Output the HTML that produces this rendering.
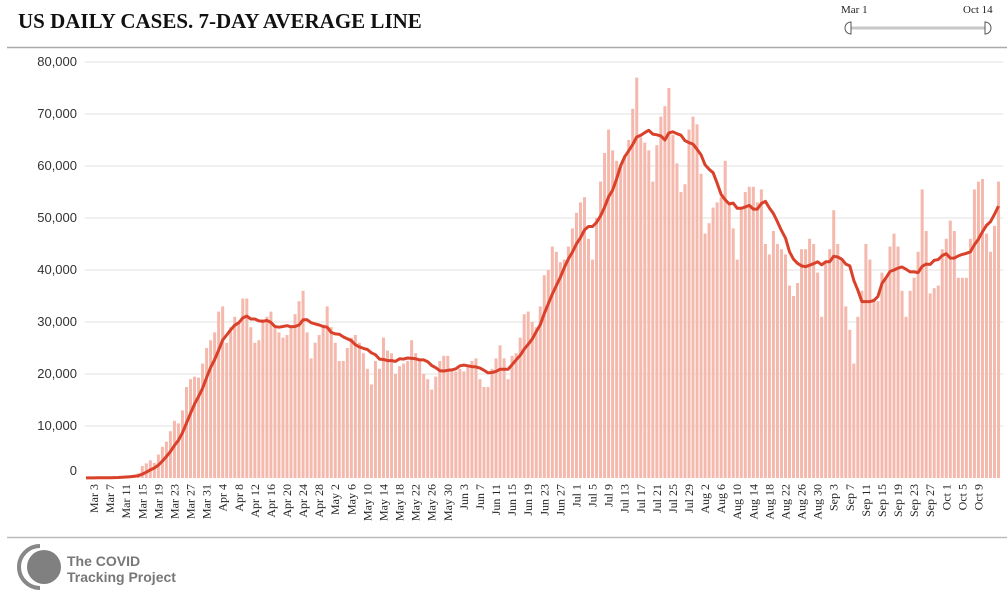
<!DOCTYPE html>
<html><head><meta charset="utf-8"><style>
body{margin:0;background:#fff;width:1007px;height:592px;overflow:hidden;position:relative;font-family:"Liberation Serif",serif}
</style></head><body>
<div style="position:absolute;left:18px;top:9px;font:bold 21px 'Liberation Serif',serif;color:#111">US DAILY CASES. 7-DAY AVERAGE LINE</div>
<svg id="c" width="1007" height="592" style="position:absolute;left:0;top:0">
<line x1="7" y1="47.5" x2="1007" y2="47.5" stroke="#aaa" stroke-width="1.5"/>
<line x1="7" y1="537.5" x2="1007" y2="537.5" stroke="#bbb" stroke-width="1.5"/>
<g>
<text x="841" y="13" font-size="11" font-family="Liberation Serif" fill="#222">Mar 1</text>
<text x="963" y="13" font-size="11" font-family="Liberation Serif" fill="#222">Oct 14</text>
<line x1="850" y1="28" x2="986" y2="28" stroke="#c8c8c8" stroke-width="3"/>
<path d="M851 22 A6 6 0 0 0 851 34 Z" fill="#fff" stroke="#555"/>
<path d="M985 22 A6 6 0 0 1 985 34 Z" fill="#fff" stroke="#555"/>
</g>
<g id="grid"></g><g id="bars"></g><g id="avg"></g><g id="xl"></g>
<g>
<path d="M40 546 A21 21 0 0 0 40 588" fill="none" stroke="#888" stroke-width="4"/>
<circle cx="44" cy="567" r="17" fill="#808080"/>
<text x="67" y="566" font-family="Liberation Sans" font-weight="bold" font-size="14" fill="#777">The COVID</text>
<text x="67" y="582" font-family="Liberation Sans" font-weight="bold" font-size="14" fill="#777">Tracking Project</text>
</g>
</svg>
<script>
const mar=[0.02,0.02,0.03,0.05,0.07,0.1,0.15,0.12,0.2,0.3,0.4,0.5,0.6,0.9,2.3,2.8,3.4,2.9,4.5,6,7,9,11,10.5,13,17.5,19,19.5,19.3,22,25];
const apr=[26.5,28,32,33,26,29,31,30,34.5,34.5,29,26,26.5,30.5,31,32,29,28,27,27.5,29,31.5,34,36,28,23,26,27.5,29.5,33];
const may=[29,26,22.5,22.5,25,27,27.5,26,24,21,18,22.5,21,27,24.5,24,20,21.5,22,22.5,26.5,24,22.5,20,19,17,19.5,22.5,23.5,23.5,20.5];
const jun=[20.5,21,20.5,21.5,22.5,23,19,17.5,17.5,21,23,25.5,23,19,23.5,24,27,31.5,32,30,29,33,39,40,44.5,43.5,41.5,42,44.5,48];
const jul=[51,53,54,46,42,50,57,62.5,67,63,61,60,62,65,71,77,65.5,64.5,63,57,64,69.5,71.5,75,66,60.5,55,56.5,67,69.5,68];
const aug=[58.5,47,49,52,53,54,61,53,48,42,52,55,56,56,53,55.5,45,43,47.5,45,44,43,37,35,37.5,44,44,46,45,39.5,31];
const sep=[41.5,44,51.5,45,42,33,28.5,22,31,36,45,42,34.5,34,39.5,38.5,44.5,47,44.5,36,31,36,38.5,43.5,55.5,47.5,35.5,36.5,37,44];
const oct=[46,49.5,47.5,38.5,38.5,38.5,46,55.5,57,57.5,47,43.5,48.5,57];
const yTicks=[0,10000,20000,30000,40000,50000,60000,70000,80000];
const monthNames=["Mar","Apr","May","Jun","Jul","Aug","Sep","Oct"];
const monthLens=[31,30,31,30,31,31,30,14];
const cases=[...mar,...apr,...may,...jun,...jul,...aug,...sep,...oct].map(v=>v*1000);
const NS="http://www.w3.org/2000/svg";
const x=i=>86+i*4.02;
const y=v=>478-v*0.0052;
function mk(t,a,p){const e=document.createElementNS(NS,t);for(const k in a)e.setAttribute(k,a[k]);document.getElementById(p).appendChild(e);return e;}
yTicks.forEach(v=>{
 if(v>0){const g=mk('line',{x1:85,x2:1003,y1:y(v),y2:y(v),stroke:'#e2e2e2'},'grid');
 
 }
 const t=mk('text',{x:77,y:y(v)+(v==0?-3:4),'text-anchor':'end','font-family':'Liberation Sans','font-size':13,fill:'#333'},'grid');
 t.textContent=v.toLocaleString('en-US');
 
 
});
cases.forEach((v,i)=>{
 const r=mk('rect',{x:x(i)-1.5,y:y(v),width:3,height:478-y(v),fill:'#f5b8ac'},'bars');
 
 
});
const avg=cases.map((v,i)=>{const s=cases.slice(Math.max(0,i-6),i+1);return s.reduce((a,b)=>a+b,0)/s.length;});
const p=mk('path',{d:avg.map((v,i)=>(i?'L':'M')+x(i).toFixed(1)+' '+y(v).toFixed(1)).join(''),fill:'none',stroke:'#d9412b','stroke-width':3,'stroke-linejoin':'round'},'avg');


let idx=0;
monthLens.forEach((n,m)=>{for(let d=1;d<=n;d++){ if((idx-2)%4==0 && idx<=222){
 const t=mk('text',{transform:`translate(${x(idx)+4},484) rotate(-90)`,'text-anchor':'end','font-family':'Liberation Serif','font-size':12,fill:'#222'},'xl');
 t.textContent=monthNames[m]+' '+d;
 
 
 } idx++;}});
</script>
</body></html>
